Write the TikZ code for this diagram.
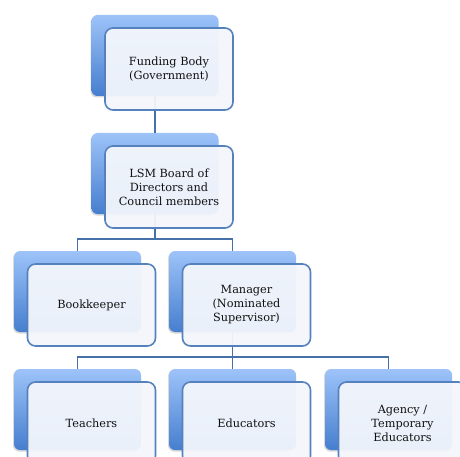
\documentclass[tikz,border=0pt]{standalone}
\usepackage{fontspec}
\setmainfont{DejaVu Serif}
\usetikzlibrary{shadows}

\definecolor{backtop}{HTML}{9DC3F9}
\definecolor{backbottom}{HTML}{467ECF}
\definecolor{frontline}{HTML}{5581BD}
\definecolor{frontfill}{HTML}{F3F6FC}
\definecolor{linkblue}{HTML}{4670A8}
\definecolor{textgray}{HTML}{111111}

\tikzset{
  backbox/.style={rounded corners=6pt, minimum width=127pt, minimum height=81pt,
    inner sep=0pt, top color=backtop, bottom color=backbottom,
    drop shadow={shadow xshift=-1pt, shadow yshift=-1.5pt, opacity=0.3}},
  frontbox/.style={rounded corners=8pt, minimum width=128pt, minimum height=82pt,
    inner sep=0pt, draw=frontline, line width=1.6pt, fill=frontfill,
    fill opacity=0.95, text opacity=1, align=center, text=textgray,
    font=\fontsize{11.3}{14}\selectfont},
  link/.style={draw=linkblue, line width=1.8pt}
}

\begin{document}
\begin{tikzpicture}[x=1pt, y=-1pt]
  \useasboundingbox (0,0) rectangle (460,457);
  \clip (0,0) rectangle (460,457);

  % Back boxes with the blue gradient
  \node[backbox] (fundB) at (155,55.5) {};
  \node[backbox] (boardB) at (155,173.5) {};
  \node[backbox] (bookB) at (77.5,291.5) {};
  \node[backbox] (mgrB) at (232.5,291.5) {};
  \node[backbox] (teachB) at (77.5,409.5) {};
  \node[backbox] (eduB) at (232.5,409.5) {};
  \node[backbox] (agencyB) at (388.5,409.5) {};

  % Connectors
  \draw[link] (fundB.south) -- (boardB.north);
  \draw[link] (boardB.south) -- ++(0,25) -| (bookB.north);
  \draw[link] (boardB.south) -- ++(0,25) -| (mgrB.north);
  \draw[link] (mgrB.south) -- ++(0,25) -| (teachB.north);
  \draw[link] (mgrB.south) -- (eduB.north);
  \draw[link] (mgrB.south) -- ++(0,25) -| (agencyB.north);

  % Front boxes with the texts
  \node[frontbox] (fund) at (169,69) {Funding Body\\(Government)};
  \node[frontbox] (board) at (169,187) {LSM Board of\\Directors and\\Council members};
  \node[frontbox] (book) at (91.5,305) {Bookkeeper};
  \node[frontbox] (mgr) at (246.5,305) {Manager\\(Nominated\\Supervisor)};
  \node[frontbox] (teach) at (91.5,423) {Teachers};
  \node[frontbox] (edu) at (246.5,423) {Educators};
  \node[frontbox] (agency) at (402.5,423) {Agency /\\Temporary\\Educators};
\end{tikzpicture}
\end{document}
